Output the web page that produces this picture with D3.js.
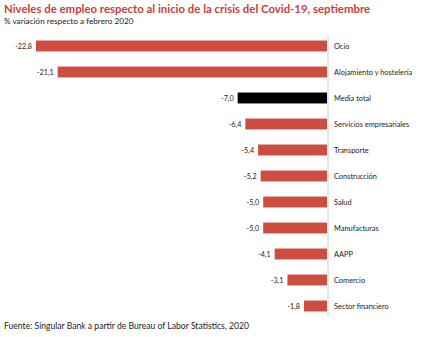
<!DOCTYPE html>
<html><head><meta charset="utf-8">
<script src="https://cdn.jsdelivr.net/npm/d3@7"></script>
<style>body{margin:0;background:#fff}svg{display:block}text{font-family:Lato,"Open Sans",sans-serif}</style>
</head><body><svg id="c" width="434" height="337"></svg>
<script>
const categories = ["Ocio","Alojamiento y hostelería","Media total","Servicios empresariales","Transporte","Construcción","Salud","Manufacturas","AAPP","Comercio","Sector financiero"];
const values = [-22.8,-21.1,-7.0,-6.4,-5.4,-5.2,-5.0,-5.0,-4.1,-3.1,-1.8];
const highlight = ["Media total"];

const svg = d3.select("#c");
const x = d3.scaleLinear().domain([-22.8,0]).range([36,327]);
const y = d3.scaleBand().domain(categories).range([33,319]).paddingInner(0.58).paddingOuter(0.29);
const fmt = v => d3.format(".1f")(v).replace(".",",").replace("−","-");

svg.append("text").attr("x",4).attr("y",13).attr("fill","#c8413a").attr("font-size",11.4).attr("font-weight","bold")
  .text("Niveles de empleo respecto al inicio de la crisis del Covid-19, septiembre");
svg.append("text").attr("x",4).attr("y",24).attr("fill","#222").attr("font-size",8.2)
  .text("% variación respecto a febrero 2020");

svg.selectAll("rect.bar").data(categories).join("rect").attr("class","bar")
  .attr("x",(d,i)=>x(values[i])).attr("width",(d,i)=>x(0)-x(values[i]))
  .attr("y",d=>y(d)).attr("height",y.bandwidth())
  .attr("fill",d=>highlight.includes(d)?"#000":"#cc4e40");

svg.append("line").attr("x1",x(0)+1).attr("x2",x(0)+1).attr("y1",35).attr("y2",316).attr("stroke","#d0d0d0").attr("stroke-width",1);

svg.selectAll("text.val").data(categories).join("text").attr("class","val")
  .attr("x",(d,i)=>x(values[i])-4).attr("y",d=>y(d)+y.bandwidth()/2+2.5)
  .attr("text-anchor","end").attr("font-size",7.2).attr("fill","#222")
  .text((d,i)=>fmt(values[i]));

svg.selectAll("text.cat").data(categories).join("text").attr("class","cat")
  .attr("x",x(0)+7).attr("y",d=>y(d)+y.bandwidth()/2+2.5)
  .attr("font-size",7.4).attr("fill","#222").text(d=>d);

svg.append("text").attr("x",4).attr("y",329).attr("fill","#222").attr("font-size",8.6)
  .text("Fuente: Singular Bank a partir de Bureau of Labor Statistics, 2020");
</script></body></html>
